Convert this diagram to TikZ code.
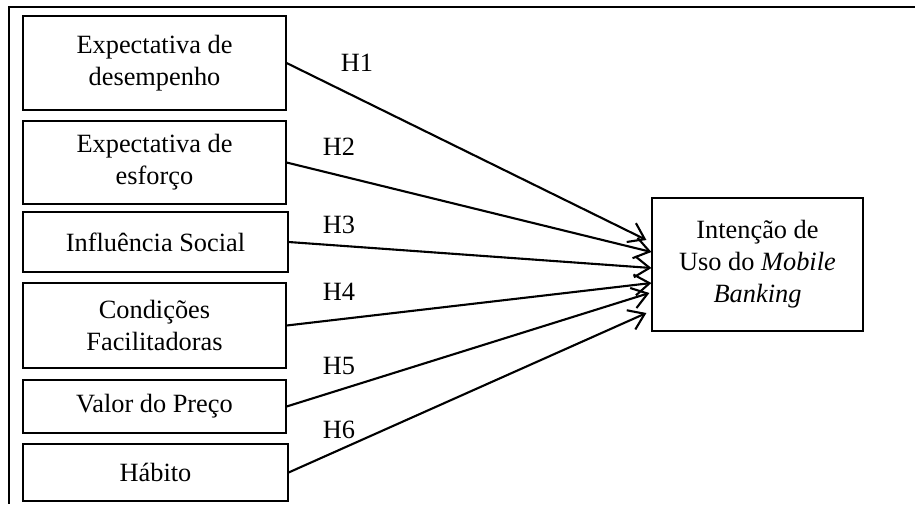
\documentclass[tikz,border=0pt]{standalone}
\usepackage{fontspec}
\setmainfont{Liberation Serif}
\usepackage{tikz}
\usetikzlibrary{arrows.meta, positioning, calc}

\begin{document}
\begin{tikzpicture}[x=0.02cm, y=-0.02cm,
        font=\fontsize{15}{18.2}\selectfont,
        construct/.style={draw, line width=0.7pt, align=center, inner sep=0pt,
            minimum width=5.26cm},
        hyp/.style={line width=1.2pt, -{Straight Barb[length=3mm, width=4.2mm, line width=1.2pt]}},
        hlabel/.style={inner sep=0pt}]

            \useasboundingbox (0,0) rectangle (915,504);
            \draw[line width=0.8pt] (915,7) -- (9,7) -- (9,504);

            \node[construct, minimum height=1.88cm] (pe) at (154.5,63) {Expectativa de\\desempenho};
            \node[construct, minimum height=1.66cm] (ee) at (154.5,162.5) {Expectativa de\\esforço};
            \node[construct, minimum width=5.3cm, minimum height=1.2cm] (is) at (155.5,242) {Influência Social};
            \node[construct, minimum height=1.7cm] (cf) at (154.5,325.5) {Condições\\Facilitadoras};
            \node[construct, minimum height=1.06cm] (vp) at (154.5,406.5) {Valor do Preço};
            \node[construct, minimum width=5.3cm, minimum height=1.14cm] (hb) at (155.5,472.5) {Hábito};

            \node[construct, minimum width=4.22cm, minimum height=2.66cm] (iu) at (757.5,264.5)
                {Intenção de\\Uso do \textit{Mobile}\\\textit{Banking}};

            \draw[hyp] (pe.east) -- ([shift={(-5,-24.5)}]iu.west);
            \draw[hyp] (ee.east) -- ([shift={(0,-12.5)}]iu.west);
            \draw[hyp] (is.east) -- ([shift={(0,3.5)}]iu.west);
            \draw[hyp] (cf.east) -- ([shift={(0,18.5)}]iu.west);
            \draw[hyp] (vp.east) -- ([shift={(-2,28.5)}]iu.west);
            \draw[hyp] (hb.east) -- ([shift={(-5,48.5)}]iu.west);

            \node[hlabel] (h1) at (357,63) {H1};
            \node[hlabel] (h2) at (339,147) {H2};
            \node[hlabel] (h3) at (339,225) {H3};
            \node[hlabel] (h4) at (339,292) {H4};
            \node[hlabel] (h5) at (339,366) {H5};
            \node[hlabel] (h6) at (339,430) {H6};
        \end{tikzpicture}
\end{document}
